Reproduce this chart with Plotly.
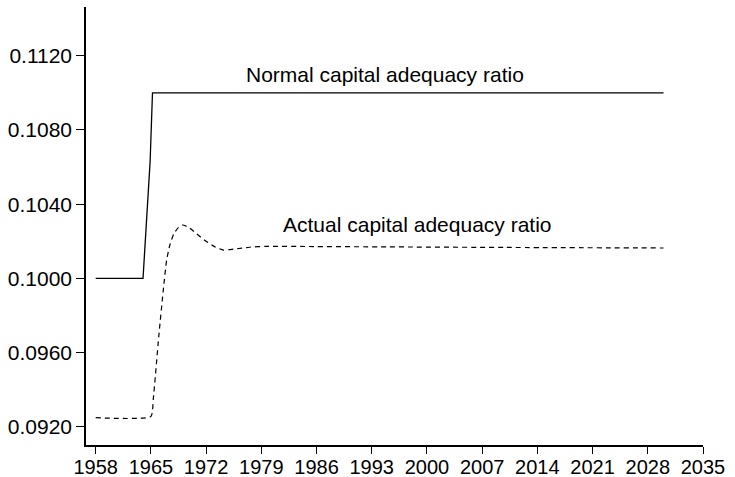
import plotly.graph_objects as go

# Normal capital adequacy ratio
normal_years = [1958, 1964.0, 1964.9, 1965.2, 2030]
normal_values = [0.1000, 0.1000, 0.1063, 0.1100, 0.1100]

# Actual capital adequacy ratio
actual_years = [1958, 1965.0, 1965.3, 1966.0, 1966.6, 1967.0, 1967.4, 1967.9, 1968.5,
                1969.0, 1969.8, 1970.8, 1972.0, 1973.2, 1974.2, 1975.5, 1977.5,
                1979.5, 1985, 1995, 2010, 2030]
actual_values = [0.09250, 0.09257, 0.0935, 0.0969, 0.0995, 0.1010, 0.1018, 0.1024, 0.10275,
                 0.10288, 0.10275, 0.1024, 0.1020, 0.10168, 0.10153, 0.10158, 0.10168,
                 0.10173, 0.10172, 0.10170, 0.10167, 0.10164]

x_ticks = [1958, 1965, 1972, 1979, 1986, 1993, 2000, 2007, 2014, 2021, 2028, 2035]
y_ticks = [0.0920, 0.0960, 0.1000, 0.1040, 0.1080, 0.1120]

labels = ["Normal capital adequacy ratio", "Actual capital adequacy ratio"]

FONT = "Liberation Sans, Arial, Helvetica, sans-serif"

fig = go.Figure()
fig.add_trace(go.Scatter(x=normal_years, y=normal_values, mode="lines",
                         line=dict(color="black", width=1.3), showlegend=False,
                         hoverinfo="skip"))
fig.add_trace(go.Scatter(x=actual_years, y=actual_values, mode="lines",
                         line=dict(color="black", width=1.2, dash="5px,4px", shape="spline",
                                   smoothing=0.5),
                         showlegend=False, hoverinfo="skip"))

fig.add_annotation(x=1994.7, y=0.11100, text=labels[0], showarrow=False,
                   xanchor="center", yanchor="middle",
                   font=dict(family=FONT, size=21, color="black"))
fig.add_annotation(x=1998.85, y=0.10292, text=labels[1], showarrow=False,
                   xanchor="center", yanchor="middle",
                   font=dict(family=FONT, size=21, color="black"))

fig.update_layout(
    width=735, height=477,
    margin=dict(l=86, r=32, t=7, b=32, pad=0),
    paper_bgcolor="white", plot_bgcolor="white",
    font=dict(family=FONT, size=21, color="black"),
)
fig.update_xaxes(range=[1956.77, 2035], tickvals=x_ticks, ticktext=[str(v) for v in x_ticks],
                 showline=True, linecolor="black", linewidth=1.5, ticks="outside",
                 ticklen=7, tickwidth=1.3, tickcolor="black", showgrid=False, zeroline=False,
                 automargin=False, ticklabelstandoff=-4, tickfont=dict(family=FONT, size=20))
fig.update_yaxes(range=[0.09103, 0.11462], tickvals=y_ticks,
                 ticktext=[f"{v:.4f}" for v in y_ticks],
                 showline=True, linecolor="black", linewidth=1.5, ticks="outside",
                 ticklen=8, tickwidth=1.3, tickcolor="black", showgrid=False, zeroline=False,
                 automargin=False, tickfont=dict(family=FONT, size=21))

fig.write_html("out.html", post_script="document.body.style.margin='0';",
               config={"displayModeBar": False})
